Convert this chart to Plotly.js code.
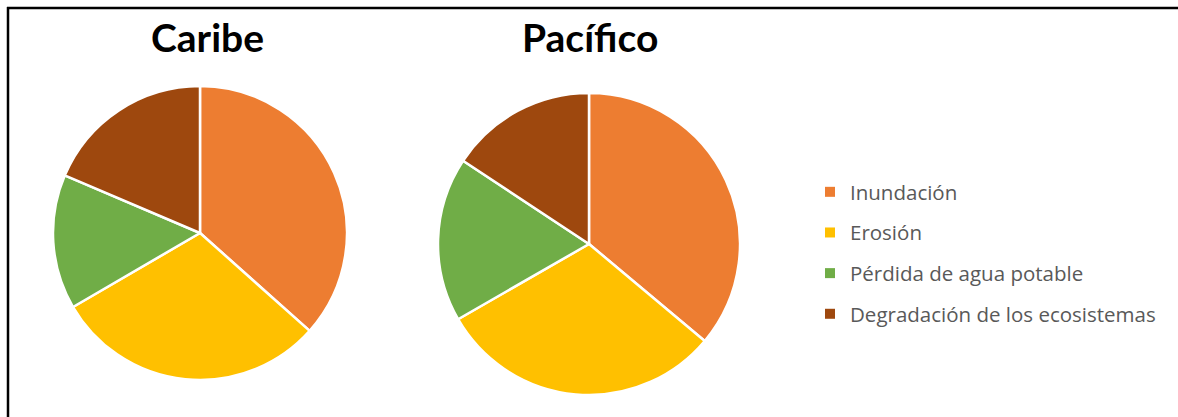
<!DOCTYPE html>
<html>
<head>
<meta charset="utf-8">
<script src="https://cdn.plot.ly/plotly-3.0.1.min.js"></script>
<style>html,body{margin:0;padding:0;background:#fff;}#chart{width:1178px;height:417px;}</style>
</head>
<body>
<div id="chart"></div>
<script>
const categories = ["Inundación", "Erosión", "Pérdida de agua potable", "Degradación de los ecosistemas"];
const caribeValues = [36.6, 30.0, 14.8, 18.6];
const pacificoValues = [36.1, 30.6, 17.6, 15.7];
const chartTitles = ["Caribe", "Pacífico"];
const colors = ["#ED7D31", "#FFC000", "#70AD47", "#9E480E"];

const W = 1178, H = 417;
function px(x){ return x / W; }
function py(y){ return 1 - y / H; }

const pieBase = {
  type: "pie",
  labels: categories,
  sort: false,
  direction: "clockwise",
  rotation: 0,
  textinfo: "none",
  hoverinfo: "label+percent",
  showlegend: false,
  marker: { colors: colors, line: { color: "#ffffff", width: 2.5 } }
};

const traces = [
  Object.assign({}, pieBase, {
    values: caribeValues, name: chartTitles[0],
    domain: { x: [px(53), px(347)], y: [py(380), py(86)] }
  }),
  Object.assign({}, pieBase, {
    values: pacificoValues, name: chartTitles[1],
    domain: { x: [px(438), px(740)], y: [py(395), py(93)] }
  })
];

categories.forEach((c, i) => {
  traces.push({
    type: "scatter", mode: "markers", x: [null], y: [null],
    name: c, legendgroup: "g" + i, showlegend: true,
    marker: { symbol: "square", size: 10, color: colors[i] },
    hoverinfo: "skip"
  });
});

const layout = {
  width: W, height: H,
  margin: { l: 0, r: 0, t: 0, b: 0 },
  paper_bgcolor: "#ffffff",
  plot_bgcolor: "#ffffff",
  xaxis: { visible: false },
  yaxis: { visible: false },
  showlegend: true,
  legend: {
    x: px(810), y: py(172), xanchor: "left", yanchor: "top",
    font: { family: "Open Sans, sans-serif", size: 20.5, color: "#595959" },
    tracegroupgap: 11,
    bgcolor: "rgba(0,0,0,0)"
  },
  annotations: [
    { text: "<b>" + chartTitles[0] + "</b>", x: px(207), y: py(37), xref: "paper", yref: "paper",
      xanchor: "center", yanchor: "middle",
      showarrow: false, font: { family: "Lato, sans-serif", size: 39, color: "#000" } },
    { text: "<b>" + chartTitles[1] + "</b>", x: px(590), y: py(37), xref: "paper", yref: "paper",
      xanchor: "center", yanchor: "middle",
      showarrow: false, font: { family: "Lato, sans-serif", size: 39, color: "#000" } }
  ],
  shapes: [
    { type: "line", xref: "paper", yref: "paper", x0: px(7), x1: 1, y0: py(8), y1: py(8),
      line: { color: "#000", width: 2.5 } },
    { type: "line", xref: "paper", yref: "paper", x0: px(8), x1: px(8), y0: py(7), y1: 0,
      line: { color: "#000", width: 2.5 } }
  ]
};

Plotly.newPlot("chart", traces, layout, { displayModeBar: false, staticPlot: true });
</script>
</body>
</html>
